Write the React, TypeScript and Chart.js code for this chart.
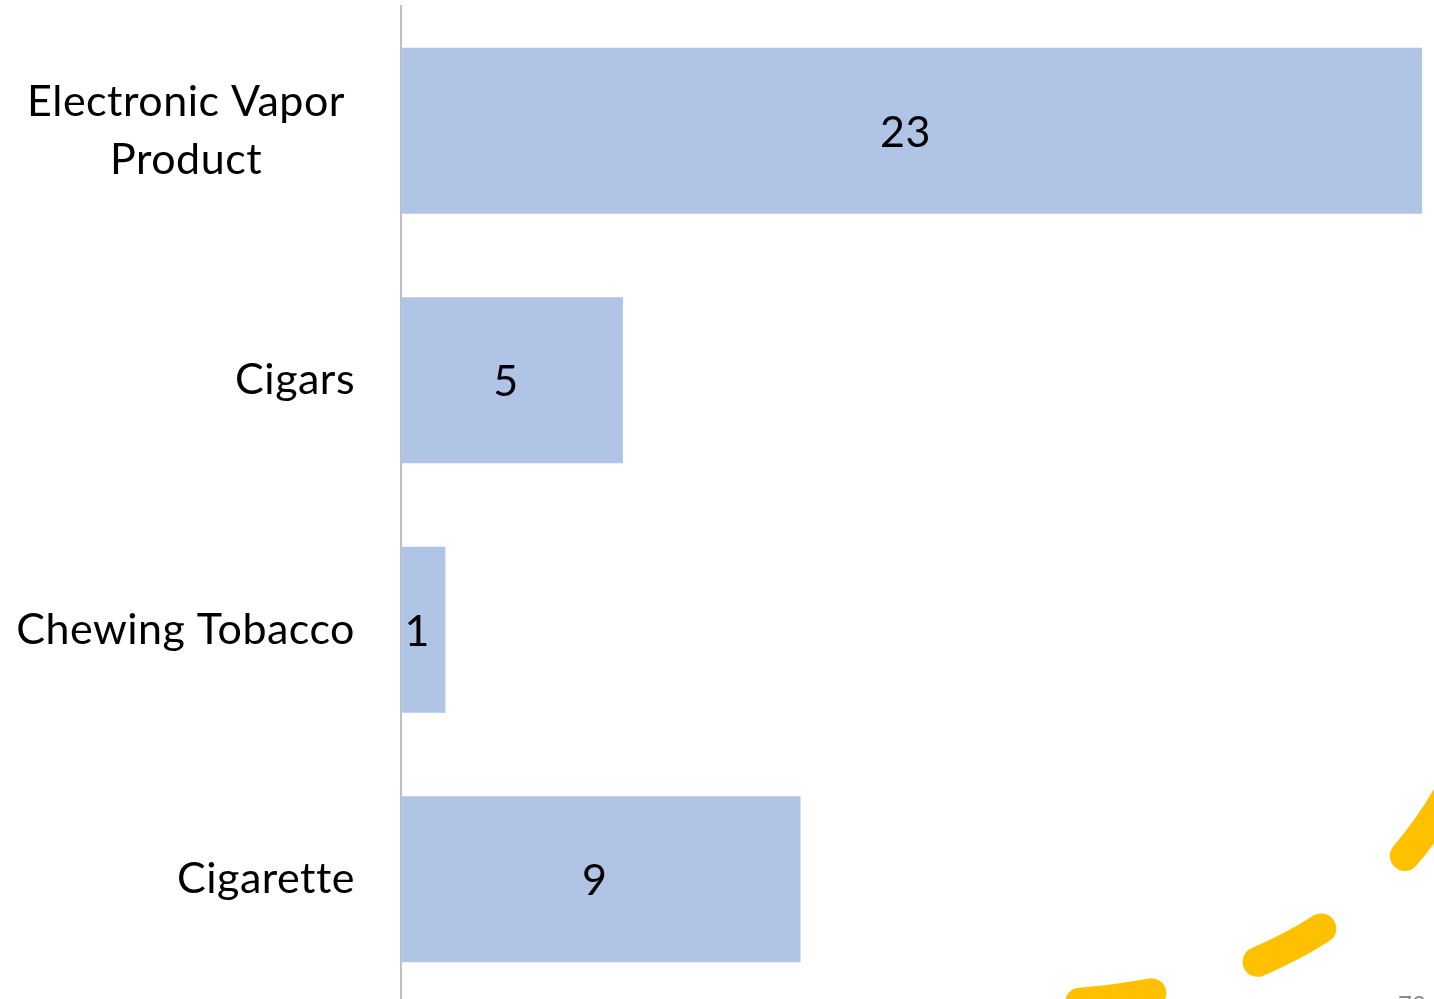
import React, { useEffect, useRef } from "react";
import { Chart, registerables } from "chart.js";

Chart.register(...registerables);

const categories: string[][] = [["Electronic Vapor", "Product"], ["Cigars"], ["Chewing Tobacco"], ["Cigarette"]];
const values: number[] = [23, 5, 1, 9];
const valueMax = 23;
const pageNumber = "73";

const FONT = "Lato, 'Open Sans', sans-serif";
const FONT_SIZE = 43;

const labelPlugin = {
  id: "customLabels",
  afterDraw(chart: any) {
    const { ctx, chartArea } = chart;
    const yScale = chart.scales.y;
    const meta = chart.getDatasetMeta(0);
    ctx.save();
    ctx.font = `${FONT_SIZE}px ${FONT}`;
    (ctx as any).letterSpacing = "0.5px";
    ctx.fillStyle = "#000000";
    ctx.textBaseline = "middle";
    const rightEdge = chartArea.left - 46;
    categories.forEach((lines, i) => {
      const y = yScale.getPixelForTick(i);
      if (lines.length === 1) {
        ctx.textAlign = "right";
        ctx.fillText(lines[0], rightEdge, y);
      } else {
        const widest = Math.max(...lines.map((l) => ctx.measureText(l).width));
        const cx = rightEdge - 10 - widest / 2;
        const lh = FONT_SIZE * 1.35;
        ctx.textAlign = "center";
        lines.forEach((l, j) => {
          ctx.fillText(l, cx, y + (j - (lines.length - 1) / 2) * lh);
        });
      }
    });
    // value labels
    ctx.textAlign = "center";
    meta.data.forEach((bar: any, i: number) => {
      const cx = (bar.base + bar.x) / 2 - 6;
      ctx.fillText(String(values[i]), cx, bar.y + 2);
    });
    ctx.restore();
  },
};

const decoPlugin = {
  id: "deco",
  afterDraw(chart: any) {
    const { ctx, width } = chart;
    const h = 999;
    ctx.save();
    ctx.strokeStyle = "#FFC000";
    ctx.lineWidth = 30;
    ctx.lineCap = "round";
    ctx.setLineDash([72, 111]);
    ctx.lineDashOffset = -40;
    ctx.beginPath();
    ctx.moveTo(width - 394, h + 6);
    ctx.quadraticCurveTo(width - 94, h - 4, width + 20, h - 215);
    ctx.stroke();
    ctx.setLineDash([]);
    ctx.fillStyle = "#8C8C8C";
    ctx.font = `24px ${FONT}`;
    ctx.textAlign = "left";
    ctx.textBaseline = "top";
    ctx.fillText(pageNumber, width - 36, h - 6);
    ctx.restore();
  },
};

export default function App() {
  const ref = useRef<HTMLCanvasElement>(null);
  useEffect(() => {
    document.body.style.margin = "0";
    const chart = new Chart(ref.current!, {
      type: "bar",
      data: {
        labels: categories.map((c) => c.join(" ")),
        datasets: [
          {
            data: values,
            backgroundColor: "#B0C4E6",
            borderWidth: 0,
            categoryPercentage: 1,
            barPercentage: 0.665,
          },
        ],
      },
      options: {
        indexAxis: "y",
        responsive: false,
        animation: false,
        layout: { padding: { left: 393, right: 12, top: 6, bottom: 0 } },
        plugins: { legend: { display: false }, tooltip: { enabled: false } },
        scales: {
          x: { display: false, min: 0, max: valueMax },
          y: {
            z: 1,
            ticks: { display: false },
            grid: { display: false },
            border: { display: true, color: "#BFBFBF", width: 2 },
          },
        },
      },
      plugins: [labelPlugin, decoPlugin],
    });
    return () => chart.destroy();
  }, []);
  return (
    <div style={{ width: 1434, height: 999, overflow: "hidden", position: "relative" }}>
      <canvas ref={ref} width={1434} height={1004} style={{ display: "block" }} />
    </div>
  );
}
